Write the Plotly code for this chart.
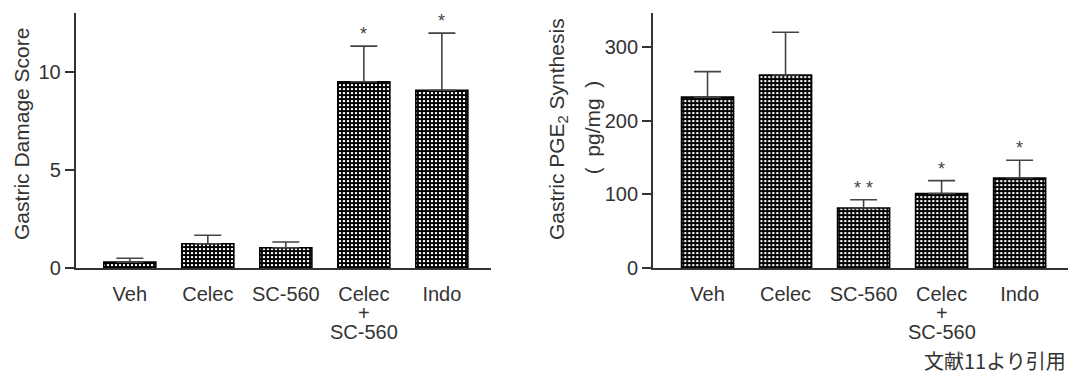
import plotly.graph_objects as go

# ---- data ----
categories = ["Veh", "Celec", "SC-560", "Celec + SC-560", "Indo"]
tick_first = ["Veh", "Celec", "SC-560", "Celec", "Indo"]
extra_lines = ["", "", "", "+|SC-560", ""]

damage_mean = [0.31, 1.25, 1.04, 9.50, 9.07]
damage_sem = [0.20, 0.43, 0.30, 1.82, 2.91]
damage_sig = ["", "", "", "*", "*"]

pge_mean = [232.0, 262.0, 81.6, 101.3, 122.4]
pge_sem = [34.6, 58.0, 11.3, 17.5, 24.1]
pge_sig = ["", "", "* *", "*", "*"]

left_ticks = [0, 5, 10]
right_ticks = [0, 100, 200, 300]

W, H = 1069, 376
TXT = "#333333"
AX = "#333333"
FONT = "Liberation Sans, Arial, sans-serif"

xi = list(range(len(categories)))

fig = go.Figure()

def add_bars(means, sems, xa, ya):
    fig.add_trace(go.Bar(
        x=xi, y=means, width=0.667, xaxis=xa, yaxis=ya,
        marker=dict(color="white",
                    line=dict(color="black", width=1.6),
                    pattern=dict(shape="+", fgcolor="black", bgcolor="white",
                                 fgopacity=1, size=4, solidity=0.7)),
        error_y=dict(type="data", array=sems, arrayminus=[0] * len(sems),
                     symmetric=False, color="#444444", thickness=1.6, width=13.5),
        showlegend=False, hoverinfo="skip"))

add_bars(damage_mean, damage_sem, "x", "y")
add_bars(pge_mean, pge_sem, "x2", "y2")

ydom = [(H - 276.3) / H, (H - 13.5) / H]
common_x = dict(tickmode="array", tickvals=xi, ticktext=tick_first,
                showline=True, linecolor=AX, linewidth=1.5, ticks="",
                showgrid=False, zeroline=False, ticklabelstandoff=7,
                tickfont=dict(family=FONT, size=20, color=TXT), fixedrange=True)
common_y = dict(showline=True, linecolor=AX, linewidth=1.5, ticks="outside",
                ticklen=9.5, tickwidth=1.5, tickcolor=AX, showgrid=False,
                zeroline=False, tickfont=dict(family=FONT, size=20, color=TXT),
                fixedrange=True)

fig.update_layout(
    width=W, height=H, margin=dict(l=0, r=0, t=0, b=0),
    paper_bgcolor="white", plot_bgcolor="white",
    xaxis=dict(domain=[76 / W, 491 / W], range=[-0.69, 4.63], anchor="y", **common_x),
    yaxis=dict(domain=ydom, range=[0, 13], tickvals=left_ticks, anchor="x", **common_y),
    xaxis2=dict(domain=[653.3 / W, 1068 / W], range=[-0.695, 4.62], anchor="y2", **common_x),
    yaxis2=dict(domain=ydom, range=[0, 346], tickvals=right_ticks, anchor="x2", **common_y),
)

ann = []
# significance marks
for xa, ya, means, sems, sig in [("x", "y", damage_mean, damage_sem, damage_sig),
                                  ("x2", "y2", pge_mean, pge_sem, pge_sig)]:
    for i, s in enumerate(sig):
        if s:
            ann.append(dict(x=i, y=means[i] + sems[i], xref=xa, yref=ya, text=s,
                            showarrow=False, xanchor="center", yanchor="bottom",
                            font=dict(family=FONT, size=18, color="#444444")))
# extra x label lines
for xa in ["x", "x2"]:
    for i, e in enumerate(extra_lines):
        if e:
            for k, line in enumerate(e.split("|")):
                ann.append(dict(x=i, y=(H - (322 + 19.5 * k)) / H, xref=xa, yref="paper",
                                text=line, showarrow=False, xanchor="center",
                                yanchor="middle",
                                font=dict(family=FONT, size=20, color=TXT)))
# y titles
ann.append(dict(x=22 / W, y=(H - 138) / H, xref="paper", yref="paper",
                text="Gastric Damage Score", textangle=-90, showarrow=False,
                xanchor="center", yanchor="middle",
                font=dict(family=FONT, size=21, color=TXT)))
ann.append(dict(x=558 / W, y=(H - 133) / H, xref="paper", yref="paper",
                text="Gastric PGE<sub>2</sub> Synthesis", textangle=-90, showarrow=False,
                xanchor="center", yanchor="middle",
                font=dict(family=FONT, size=21, color=TXT)))
ann.append(dict(x=592 / W, y=(H - 132) / H, xref="paper", yref="paper",
                text="(\u2002pg/mg\u2002)", textangle=-90, showarrow=False,
                xanchor="center", yanchor="middle",
                font=dict(family=FONT, size=21, color=TXT)))
# source note
ann.append(dict(x=1068 / W, y=(H - 371) / H, xref="paper", yref="paper",
                text="文献11より引用", showarrow=False, xanchor="right", yanchor="middle",
                font=dict(family="Noto Sans CJK JP", size=20, color=TXT)))

fig.update_layout(annotations=ann)
fig.write_html("out.html", config={"displayModeBar": False},
               post_script="document.body.style.margin='0';document.body.style.overflow='hidden';")
